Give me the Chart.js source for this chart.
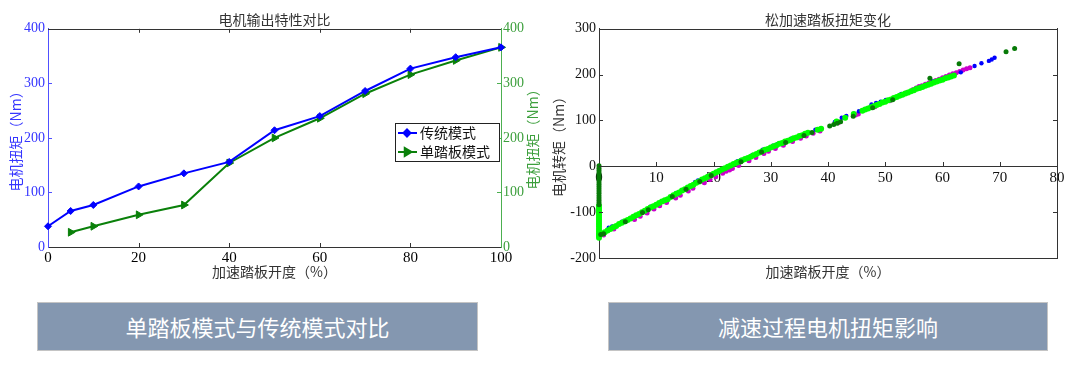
<!DOCTYPE html>
<html>
<head>
<meta charset="utf-8">
<script src="https://cdn.jsdelivr.net/npm/chart.js@4.4.1/dist/chart.umd.min.js"></script>
<style>
  body { margin: 0; background: #fff; width: 1080px; height: 366px; overflow: hidden; position: relative; }
  .panel { position: absolute; top: 0; width: 540px; height: 290px; }
  .panel canvas { display: block; }
  .banner {
    position: absolute; top: 302px; height: 47px;
    background: #8497b0; border: 1px solid #c4c4c4; color: #fff;
    font-family: "Noto Sans CJK SC", sans-serif; font-size: 22px;
    line-height: 47px; text-align: center;
  }
</style>
</head>
<body>
<div class="panel" style="left:0"><canvas id="outputChart" width="540" height="290"></canvas></div>
<div class="panel" style="left:540px"><canvas id="releaseChart" width="540" height="290"></canvas></div>
<div class="banner" style="left:37px; width:439px">单踏板模式与传统模式对比</div>
<div class="banner" style="left:608px; width:438px">减速过程电机扭矩影响</div>

<script>
// --- left chart: motor output, two modes ---
const pedalTrad = [0, 5, 10, 20, 30, 40, 50, 60, 70, 80, 90, 100];
const torqueTrad = [38, 66, 77, 111, 135, 156, 214, 240, 286, 327, 348, 366];
const pedalSingle = [5, 10, 20, 30, 40, 50, 60, 70, 80, 90, 100];
const torqueSingle = [27, 38, 59, 77, 154, 200, 236, 281, 316, 342, 366];
const pedalTicks = [0, 20, 40, 60, 80, 100];
const torqueTicks = [0, 100, 200, 300, 400];

// --- right chart: torque while releasing the pedal, [pedal %, torque Nm] ---
const releaseXTicks = [0, 10, 20, 30, 40, 50, 60, 70, 80];
const releaseYTicks = [-200, -100, 0, 100, 200, 300];

const greenAxis = [[0,1],[0,-4],[0,-9],[0,-14],[0,-19],[0,-24],[0,-29],[0,-34],[0,-39],[0,-44],[0,-49],[0,-54],[0,-59],[0,-64],[0,-69],[0,-74],[0,-79],[0,-84]];
const greenBand = [[0.3,-149],[0.8,-147],[4.6,-121],[7.6,-101],[8.6,-95],[12.8,-66],[15.2,-50],[17.6,-33],[19.6,-20],[24.8,10],[28.4,31],[32.6,52],[35.8,67],[37.2,74],[40.3,88],[41,91],[41.6,94],[42.2,97],[44.4,109],[47.8,128],[51.3,145],[57.8,192],[62.9,224],[71.1,250],[72.6,257]];
const limeAxis = [[0,-86],[0,-91],[0,-96],[0,-101],[0,-106],[0,-111],[0,-116],[0,-121],[0,-126],[0,-131],[0,-136],[0,-141],[0,-146],[0,-151],[0,-156]];
const limeBand = [[0,-151],[0.5,-147],[1,-144],[1.5,-140],[2,-137],[2.5,-133],[3,-130],[3.5,-126],[4,-123],[4.5,-120],[5,-117],[5.5,-114],[6,-110],[6.5,-107],[7,-104],[7.5,-100],[8,-97],[8.5,-93],[9,-90],[9.5,-87],[10,-84],[10.5,-80],[11,-77],[11.5,-74],[12,-72],[12.5,-67],[13,-63],[13.5,-60],[14,-57],[14.5,-53],[15,-50],[15.5,-46],[16,-43],[16.5,-40],[17,-36],[17.5,-33],[18,-29],[18.5,-26],[19,-23],[19.5,-20],[20,-16],[20.5,-13],[21,-10],[21.5,-7],[22,-4],[22.5,-1],[23,2],[23.5,5],[24,8],[24.5,10],[25,13],[25.5,16],[26,18],[26.5,21],[27,24],[27.5,27],[28,30],[28.5,33],[29,36],[29.5,38],[30,41],[30.5,44],[31,46],[31.5,49],[32,51],[32.5,54],[33,56],[33.5,58],[34,61],[34.5,63],[35,66],[35.5,68],[36,71],[36.5,73],[38.2,80],[38.8,82],[41.5,98],[43,106],[44.5,114],[46,121],[46.5,124],[47,126],[47.5,129],[48,131],[48.5,134],[49,136],[49.5,139],[50,141],[50.5,144],[51,146],[51.5,149],[52,151],[52.5,154],[53,156],[53.5,159],[54,161],[54.5,164],[55,166],[55.5,169],[56,171],[56.5,173],[57,176],[57.5,178],[58,180],[58.5,183],[59,185],[59.5,187],[60,189],[60.5,192],[61,194],[61.5,196],[62,198]];
const bluePts = [[1.7,-134],[2.3,-131],[4,-121],[9,-88],[13.5,-58],[16.8,-34],[17.3,-31],[21,-9],[24.2,11],[24.8,14],[26.8,25],[28.6,36],[30.4,45],[31.2,49],[33.5,60],[35.3,68],[37.8,80],[41.2,97],[42.4,106],[43.2,110],[44.5,115],[45.4,120],[47.6,135],[48.4,138],[49.2,141],[50.1,145],[52.8,158],[55.3,169],[58.3,185],[60.4,193],[63.2,205],[65.6,219],[66.8,225],[68.1,230],[68.6,233],[69.1,237]];
const magentaPts = [[0.8,-150],[2.6,-137],[6.2,-116],[7.2,-109],[8.4,-102],[9.6,-93],[10.6,-86],[11.8,-79],[13.4,-69],[14.2,-63],[15.6,-54],[16.4,-48],[18.4,-36],[19.4,-29],[20.4,-23],[21.6,-15],[22.2,-11],[22.8,-8],[23.3,-5],[24.4,2],[26.2,12],[27.4,19],[28.8,28],[29.6,33],[30.8,39],[32.2,46],[33.8,54],[35.2,61],[36.2,66],[37.4,72],[38.6,77],[41.8,95],[44.8,112],[45.3,114],[48.2,130],[50.8,143],[53.6,160],[54.8,167],[55.4,171],[55.9,174],[56.4,176],[57,179],[57.6,182],[58.2,184],[58.8,187],[59.4,190],[60,193],[60.6,196],[61.2,199],[61.8,202],[62.4,204],[63,207],[63.6,210],[64.2,213],[64.8,215]];

const serif = "'Liberation Serif', 'Times New Roman', serif";
const cjk = "'Noto Sans CJK SC', sans-serif";
const blueText = '#3535ff';
const greenText = '#3c9f3c';

// small inward tick marks, MATLAB style
function innerTicks(chart, scaleId, edge, len, color) {
    const s = chart.scales[scaleId];
    const a = chart.chartArea;
    const ctx = chart.ctx;
    ctx.save();
    ctx.strokeStyle = color;
    ctx.lineWidth = 1;
    ctx.beginPath();
    s.ticks.forEach(t => {
        if (t.value === s.min || t.value === s.max) return;
        const p = Math.round(s.getPixelForValue(t.value)) + 0.5;
        if (edge === 'left') { ctx.moveTo(a.left, p); ctx.lineTo(a.left + len, p); }
        else if (edge === 'right') { ctx.moveTo(a.right, p); ctx.lineTo(a.right - len, p); }
        else if (edge === 'top') { ctx.moveTo(p, a.top); ctx.lineTo(p, a.top + len); }
        else { ctx.moveTo(p, edge); ctx.lineTo(p, edge - len); }
    });
    ctx.stroke();
    ctx.restore();
}

function topBorder(chart, color) {
    const a = chart.chartArea;
    const ctx = chart.ctx;
    ctx.save();
    ctx.strokeStyle = color;
    ctx.lineWidth = 1;
    ctx.beginPath();
    ctx.moveTo(a.left, Math.round(a.top) + 0.5);
    ctx.lineTo(a.right, Math.round(a.top) + 0.5);
    ctx.stroke();
    ctx.restore();
}

function setTicks(values) {
    return function (scale) {
        scale.ticks = values.map(v => ({ value: v }));
    };
}

const noGrid = { display: false, drawTicks: false };

const outputDecor = {
    id: 'outputDecor',
    afterDraw(chart) {
        const a = chart.chartArea;
        const ctx = chart.ctx;
        topBorder(chart, '#333');
        innerTicks(chart, 'x', Math.round(a.bottom), 4, '#333');
        innerTicks(chart, 'x', 'top', 4, '#333');
        innerTicks(chart, 'y', 'left', 4, '#5050ff');
        innerTicks(chart, 'y2', 'right', 4, '#4caf50');

        // right axis title, written bottom-to-top like the left one
        ctx.save();
        ctx.translate(chart.scales.y2.right - 7, (a.top + a.bottom) / 2 - 2);
        ctx.rotate(-Math.PI / 2);
        ctx.font = '14px ' + cjk;
        ctx.fillStyle = greenText;
        ctx.textAlign = 'center';
        ctx.textBaseline = 'middle';
        ctx.fillText('电机扭矩（Nm）', 0, 0);
        ctx.restore();

        // legend box inside the plot
        const x0 = Math.round(a.right) - 106, y0 = Math.round(a.top) + 94;
        ctx.save();
        ctx.fillStyle = '#fff';
        ctx.fillRect(x0, y0, 104, 38);
        ctx.strokeStyle = '#222';
        ctx.lineWidth = 1;
        ctx.strokeRect(x0 + 0.5, y0 + 0.5, 104, 38);
        ctx.font = '14px ' + cjk;
        ctx.textBaseline = 'middle';
        chart.data.datasets.forEach((ds, i) => {
            const cy = y0 + 10 + i * 19;
            ctx.strokeStyle = ds.borderColor;
            ctx.fillStyle = ds.borderColor;
            ctx.lineWidth = 2;
            ctx.beginPath();
            ctx.moveTo(x0 + 3, cy);
            ctx.lineTo(x0 + 22, cy);
            ctx.stroke();
            if (Chart.helpers && Chart.helpers.drawPoint) {
                Chart.helpers.drawPoint(ctx, {
                    pointStyle: ds.pointStyle, rotation: ds.pointRotation || 0,
                    radius: ds.pointRadius, borderWidth: 1
                }, x0 + 12, cy);
            }
            ctx.fillStyle = '#111';
            ctx.fillText(ds.label, x0 + 25, cy);
        });
        ctx.restore();
    }
};

new Chart(document.getElementById('outputChart').getContext('2d'), {
    type: 'line',
    data: {
        datasets: [
            {
                label: '传统模式',
                data: pedalTrad.map((x, i) => ({ x: x, y: torqueTrad[i] })),
                borderColor: '#0000ff',
                backgroundColor: '#0000ff',
                borderWidth: 2,
                pointStyle: 'rectRot',
                pointRadius: 3.5,
                pointBorderWidth: 1,
                yAxisID: 'y',
                clip: false
            },
            {
                label: '单踏板模式',
                data: pedalSingle.map((x, i) => ({ x: x, y: torqueSingle[i] })),
                borderColor: '#0a800a',
                backgroundColor: '#0a800a',
                borderWidth: 2,
                pointStyle: 'triangle',
                pointRotation: 90,
                pointRadius: 4.5,
                pointBorderWidth: 1,
                yAxisID: 'y2',
                clip: false
            }
        ]
    },
    options: {
        responsive: false,
        animation: false,
        plugins: {
            legend: { display: false },
            tooltip: { enabled: false },
            title: {
                display: true,
                fullSize: false,
                text: '电机输出特性对比',
                color: '#333',
                font: { family: cjk, size: 14, weight: 'normal' },
                padding: { top: 11, bottom: 1 }
            }
        },
        scales: {
            x: {
                type: 'linear',
                min: 0,
                max: 100,
                afterBuildTicks: setTicks(pedalTicks),
                afterFit: s => { s.height = 43; },
                grid: noGrid,
                border: { color: '#333', width: 1 },
                ticks: { color: '#000', padding: 2, font: { family: serif, size: 15 } },
                title: {
                    display: true,
                    text: '加速踏板开度（%）',
                    color: '#333',
                    font: { family: cjk, size: 14 },
                    padding: { top: 0, bottom: 10 }
                }
            },
            y: {
                position: 'left',
                min: 0,
                max: 400,
                afterBuildTicks: setTicks(torqueTicks),
                afterFit: s => { s.width = 48; },
                grid: noGrid,
                border: { color: '#5050ff', width: 1 },
                ticks: { color: blueText, padding: 3, font: { family: serif, size: 14 } },
                title: {
                    display: true,
                    text: '电机扭矩（Nm）',
                    color: blueText,
                    font: { family: cjk, size: 14 },
                    padding: { top: 7, bottom: 0 }
                }
            },
            y2: {
                position: 'right',
                min: 0,
                max: 400,
                afterBuildTicks: setTicks(torqueTicks),
                afterFit: s => { s.width = 39; },
                grid: noGrid,
                border: { color: '#4caf50', width: 1 },
                ticks: { color: greenText, padding: 2, font: { family: serif, size: 14 } }
            }
        }
    },
    plugins: [outputDecor]
});

const releaseDecor = {
    id: 'releaseDecor',
    afterDraw(chart) {
        const zeroY = Math.round(chart.scales.y.getPixelForValue(0));
        topBorder(chart, '#333');
        innerTicks(chart, 'x', zeroY, 4, '#333');
        innerTicks(chart, 'y', 'left', 4, '#333');
        innerTicks(chart, 'yr', 'right', 4, '#333');
    }
};

function scatterSet(label, pts, color, radius) {
    return {
        label: label,
        data: pts.map(p => ({ x: p[0], y: p[1] })),
        backgroundColor: color,
        borderWidth: 0,
        pointRadius: radius,
        clip: false
    };
}

new Chart(document.getElementById('releaseChart').getContext('2d'), {
    type: 'scatter',
    data: {
        datasets: [
            scatterSet('g1', greenAxis.concat(greenBand), '#077a07', 2.5),
            scatterSet('g2', limeAxis.concat(limeBand), '#00ff00', 3),
            scatterSet('b', bluePts, '#0000ff', 2.2),
            scatterSet('m', magentaPts, '#cc00cc', 2.5)
        ]
    },
    options: {
        responsive: false,
        animation: false,
        plugins: {
            legend: { display: false },
            tooltip: { enabled: false },
            title: {
                display: true,
                fullSize: false,
                text: '松加速踏板扭矩变化',
                color: '#333',
                font: { family: cjk, size: 14, weight: 'normal' },
                padding: { top: 11, bottom: 1 }
            }
        },
        scales: {
            x: {
                type: 'linear',
                position: { y: 0 },
                min: 0,
                max: 80,
                afterBuildTicks: setTicks(releaseXTicks),
                grid: noGrid,
                border: { color: '#333', width: 1 },
                ticks: { color: '#111', padding: 3, font: { family: serif, size: 15 } }
            },
            xb: {
                type: 'linear',
                position: 'bottom',
                min: 0,
                max: 80,
                afterFit: s => { s.height = 32; },
                grid: noGrid,
                border: { color: '#333', width: 1 },
                ticks: { display: false },
                title: {
                    display: true,
                    text: '加速踏板开度（%）',
                    color: '#333',
                    font: { family: cjk, size: 14 },
                    padding: { top: 0, bottom: 10 }
                }
            },
            y: {
                type: 'linear',
                position: 'left',
                min: -200,
                max: 300,
                afterBuildTicks: setTicks(releaseYTicks),
                afterFit: s => { s.width = 59; },
                grid: noGrid,
                border: { color: '#333', width: 1 },
                ticks: { color: '#111', padding: 3, font: { family: serif, size: 14 } },
                title: {
                    display: true,
                    text: '电机转矩（Nm）',
                    color: '#333',
                    font: { family: cjk, size: 14 },
                    padding: { top: 10, bottom: 0 }
                }
            },
            yr: {
                type: 'linear',
                position: 'right',
                min: -200,
                max: 300,
                afterBuildTicks: setTicks(releaseYTicks),
                afterFit: s => { s.width = 23; },
                grid: noGrid,
                border: { color: '#333', width: 1 },
                ticks: { display: false }
            }
        }
    },
    plugins: [releaseDecor]
});
</script>
</body>
</html>
